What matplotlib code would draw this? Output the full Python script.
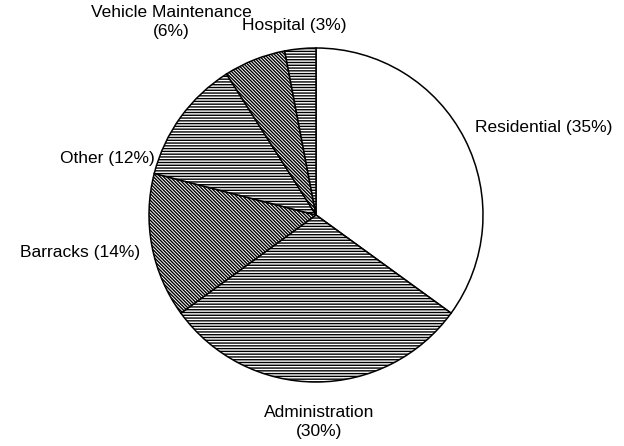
import matplotlib
matplotlib.use("Agg")
import matplotlib.pyplot as plt

# shares of the pie, clockwise from 12 o'clock
categories = ["Residential", "Administration", "Barracks", "Other",
              "Vehicle Maintenance", "Hospital"]
shares = [35, 30, 14, 12, 6, 3]
hatches = ["", "------", "\\" * 10, "------", "\\" * 10, "------"]

# label text and where it sits (pixels in the 624x446 image)
labels = ["Residential (35%)", "Administration\n(30%)", "Barracks (14%)",
          "Other (12%)", "Vehicle Maintenance\n(6%)", "Hospital (3%)"]
label_px = [(475, 127, "left"), (319, 422, "center"), (140, 253, "right"),
            (155, 158, "right"), (171, 22, "center"), (242, 25, "left")]

W, H = 624, 446
cx, cy, r = 316, 215, 167

plt.rcParams["font.family"] = ["Liberation Sans", "DejaVu Sans"]
plt.rcParams["hatch.linewidth"] = 1.0

fig = plt.figure(figsize=(W / 100, H / 100), dpi=100)
ax = fig.add_axes([(cx - r) / W, (H - cy - r) / H, 2 * r / W, 2 * r / H])

wedges, _ = ax.pie(shares, startangle=90, counterclock=False,
                   colors=["white"] * len(shares),
                   wedgeprops=dict(edgecolor="black", linewidth=1.1))
for w, h in zip(wedges, hatches):
    w.set_hatch(h)

ax.set_xlim(-1, 1)
ax.set_ylim(-1, 1)
ax.axis("off")

for text, (px, py, ha) in zip(labels, label_px):
    ax.text((px - cx) / r, (cy - py) / r, text, ha=ha, va="center",
            fontsize=12.5, linespacing=1.35, clip_on=False)

fig.savefig("out.png", dpi=100)
